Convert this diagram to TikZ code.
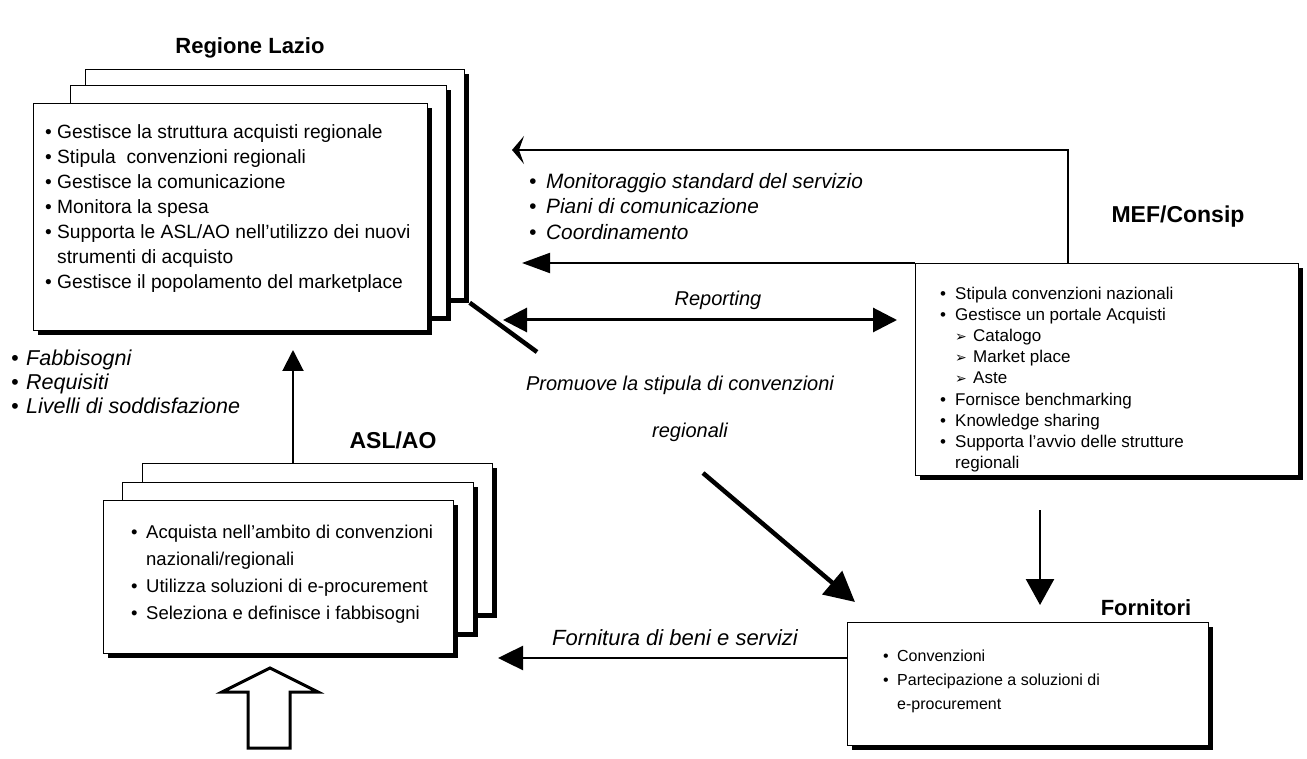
\documentclass[tikz,border=0pt]{standalone}
\usepackage{fontspec}
\setmainfont{Liberation Sans}
\newfontfamily\djv{DejaVu Sans}
\usetikzlibrary{arrows.meta,shadows}
\newcommand{\bu}[2][14pt]{\makebox[#1][l]{•}#2}
\newcommand{\subit}[1]{\hspace*{15pt}\makebox[18pt][l]{{\djv\fontsize{14}{14}\selectfont ➢}}#1}
\begin{document}
\begin{tikzpicture}[x=1pt,y=-1pt,
 card/.style={draw=black,line width=0.7pt,fill=white,anchor=north west,inner sep=0pt,
   drop shadow={shadow xshift=5pt,shadow yshift=-5pt,opacity=1,fill=black}},
 lst/.style={anchor=north west,align=left,inner sep=0pt},
 ttl/.style={font=\bfseries\fontsize{22}{24}\selectfont,inner sep=0pt},
 lbl/.style={font=\itshape\fontsize{20}{25}\selectfont,inner sep=0pt},
 con/.style={line width=2pt},
]
\useasboundingbox (0,0) rectangle (1307,759);

% ---------- Regione Lazio ----------
\node[ttl] (tRL) at (250,48) {Regione Lazio};
\node[card,minimum width=379pt,minimum height=229pt] (rl3) at (85,69) {};
\node[card,minimum width=376pt,minimum height=231pt] (rl2) at (70,85) {};
\node[card,minimum width=394pt,minimum height=227pt] (rl1) at (33,103) {};
\node[lst,font=\fontsize{19.2}{25}\selectfont] (rlT) at (45,124) {%
\bu[12pt]{Gestisce la struttura acquisti regionale}\\
\bu[12pt]{Stipula\ \ convenzioni regionali}\\
\bu[12pt]{Gestisce la comunicazione}\\
\bu[12pt]{Monitora la spesa}\\
\bu[12pt]{Supporta le ASL/AO nell’utilizzo dei nuovi}\\
\hspace*{12pt}strumenti di acquisto\\
\bu[12pt]{Gestisce il popolamento del marketplace}};

% ---------- MEF/Consip ----------
\node[ttl,font=\bfseries\fontsize{23}{25}\selectfont] (tMEF) at (1178,217) {MEF/Consip};
\node[card,minimum width=383pt,minimum height=212pt] (mef) at (915,263) {};
\node[lst,font=\fontsize{17}{21.1}\selectfont] (mefT) at (940,287) {%
\bu[15pt]{Stipula convenzioni nazionali}\\
\bu[15pt]{Gestisce un portale Acquisti}\\
\subit{Catalogo}\\
\subit{Market place}\\
\subit{Aste}\\
\bu[15pt]{Fornisce benchmarking}\\
\bu[15pt]{Knowledge sharing}\\
\bu[15pt]{Supporta l’avvio delle strutture}\\
\hspace*{15pt}regionali};

% ---------- ASL/AO ----------
\node[ttl,font=\bfseries\fontsize{23}{25}\selectfont] (tASL) at (393,440) {ASL/AO};
\node[card,minimum width=350pt,minimum height=150pt] (asl3) at (142,463) {};
\node[card,minimum width=351pt,minimum height=150pt] (asl2) at (122,482) {};
\node[card,minimum width=350pt,minimum height=153pt] (asl1) at (103,500) {};
\node[lst,font=\fontsize{18.5}{27}\selectfont] (aslT) at (131,525) {%
\bu[15pt]{Acquista nell'ambito di convenzioni}\\
\hspace*{15pt}nazionali/regionali\\
\bu[15pt]{Utilizza soluzioni di e-procurement}\\
\bu[15pt]{Seleziona e definisce i fabbisogni}};

% ---------- Fornitori ----------
\node[ttl] (tFO) at (1146,608) {Fornitori};
\node[card,minimum width=361pt,minimum height=123pt] (fo) at (847,622) {};
\node[lst,font=\fontsize{16}{24}\selectfont] (foT) at (883,649.5) {%
\bu[14pt]{Convenzioni}\\
\bu[14pt]{Partecipazione a soluzioni di}\\
\hspace*{14pt}e-procurement};

% ---------- labels ----------
\node[lst,font=\itshape\fontsize{21.5}{24}\selectfont] (lbL) at (11,350) {%
\bu[15pt]{Fabbisogni}\\ \bu[15pt]{Requisiti}\\ \bu[15pt]{Livelli di soddisfazione}};
\node[lst,font=\itshape\fontsize{20.8}{25.5}\selectfont] (lbM) at (529,173) {%
\bu[17pt]{Monitoraggio standard del servizio}\\ \bu[17pt]{Piani di comunicazione}\\ \bu[17pt]{Coordinamento}};
\node[lbl] (lRep) at (718,300) {Reporting};
\node[lbl] (lPro) at (680,385) {Promuove la stipula di convenzioni};
\node[lbl] (lReg) at (690,432) {regionali};
\node[lbl,font=\itshape\fontsize{22}{25}\selectfont] (lFor) at (675,638) {Fornitura di beni e servizi};

% ---------- connectors ----------
\coordinate (upTip) at (293,350);
\draw[con,-{Triangle[length=21pt,width=21pt]}] (asl3.north -| upTip) -- (upTip);

\coordinate (c1) at (1068,150);
\coordinate (c1tip) at (512,150);
\draw[line width=1.8pt,-{Stealth[length=12pt,width=28pt,inset=5pt]}] (mef.north -| c1) -- (c1) -- (c1tip);

\coordinate (a2tip) at (522,263);
\draw[con,-{Triangle[length=28pt,width=20pt]}] (mef.north west) -- (a2tip);

\coordinate (rpL) at (503,320);
\coordinate (rpR) at (897,320);
\draw[line width=3pt,{Triangle[length=24pt,width=24pt]}-{Triangle[length=24pt,width=24pt]}] (rpL) -- (rpR);

\coordinate (dg1) at (537,352);
\coordinate (dg2) at (703,473);
\coordinate (dgTip) at (855,602);
\draw[line width=4.5pt] ([shift={(5pt,-4pt)}]rl3.south east) -- (dg1);
\draw[line width=4.5pt,-{Triangle[length=30pt,width=30pt]}] (dg2) -- (dgTip);

\coordinate (vtA) at (1040,510);
\coordinate (vtB) at (1040,605);
\draw[line width=2.5pt,-{Triangle[length=26pt,width=28pt]}] (vtA) -- (vtB);

\coordinate (foTip) at (498,658);
\draw[line width=2.5pt,-{Triangle[length=25pt,width=24pt]}] (foTip -| fo.west) -- (foTip);

% hollow arrow
\draw[line width=3pt,fill=white,line join=miter] (248,748) -- (248,692) -- (222,692) -- (270,668) -- (318,692) -- (290,692) -- (290,748) -- cycle;
\end{tikzpicture}
\end{document}
